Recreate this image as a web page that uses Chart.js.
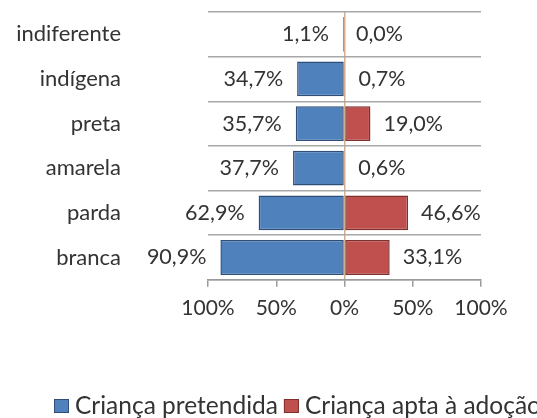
<!DOCTYPE html>
<html>
<head>
<meta charset="utf-8">
<script src="https://cdn.jsdelivr.net/npm/chart.js@4"></script>
<style>
  html, body { margin: 0; padding: 0; background: #fff; }
  #chart { display: block; }
</style>
</head>
<body>
<canvas id="chart" width="537" height="418"></canvas>
<script>
// categories, top to bottom
const categories = ['indiferente', 'indígena', 'preta', 'amarela', 'parda', 'branca'];
// % of each group
const pretendida = [1.1, 34.7, 35.7, 37.7, 62.9, 90.9];
const apta = [0.0, 0.7, 19.0, 0.6, 46.6, 33.1];
const seriesNames = ['Criança pretendida', 'Criança apta à adoção'];
// x axis ticks (left side is shown as positive)
const tickValues = [-100, -50, 0, 50, 100];

const FONT = 'Lato, "Open Sans", sans-serif';
const TEXT = '#333333';

function fmt(v) {
    return Math.abs(v).toFixed(1).replace('.', ',') + '%';
}

// value labels at the outer end of each bar
const barLabels = {
    id: 'barLabels',
    afterDatasetsDraw(chart) {
        const ctx = chart.ctx;
        ctx.save();
        ctx.font = '21.5px ' + FONT;
        ctx.fillStyle = TEXT;
        ctx.textBaseline = 'middle';
        chart.data.datasets.forEach((ds, i) => {
            const meta = chart.getDatasetMeta(i);
            meta.data.forEach((bar, j) => {
                const v = ds.data[j];
                if (v < 0) {
                    ctx.textAlign = 'right';
                    ctx.fillText(fmt(v), bar.x - 14, bar.y);
                } else {
                    ctx.textAlign = 'left';
                    ctx.fillText(fmt(v), bar.x + 13, bar.y);
                }
            });
        });
        ctx.restore();
    }
};

// legend drawn by hand, it runs past the right edge like the original
const bottomLegend = {
    id: 'bottomLegend',
    afterDraw(chart) {
        const ctx = chart.ctx;
        ctx.save();
        ctx.font = '24.5px ' + FONT;
        ctx.textBaseline = 'middle';
        ctx.textAlign = 'left';
        let x = 54;
        const y = 406;
        chart.data.datasets.forEach(ds => {
            ctx.fillStyle = ds.backgroundColor;
            ctx.strokeStyle = ds.borderColor;
            ctx.lineWidth = 1;
            ctx.fillRect(x, y - 7, 15, 14);
            ctx.strokeRect(x + 0.5, y - 6.5, 14, 13);
            x += 21;
            ctx.fillStyle = TEXT;
            ctx.fillText(ds.label, x, y);
            x += ctx.measureText(ds.label).width + 6;
        });
        ctx.restore();
    }
};

new Chart(document.getElementById('chart'), {
    type: 'bar',
    data: {
        labels: categories,
        datasets: [{
            label: seriesNames[0],
            data: pretendida.map(v => -v),
            backgroundColor: '#4f81bd',
            borderColor: '#2f4f78',
            borderWidth: 1.5,
            borderSkipped: false
        }, {
            label: seriesNames[1],
            data: apta,
            backgroundColor: '#c0504d',
            borderColor: '#7f2f2d',
            borderWidth: 1.5,
            borderSkipped: false
        }]
    },
    options: {
        indexAxis: 'y',
        responsive: false,
        animation: false,
        barPercentage: 0.78,
        categoryPercentage: 1,
        layout: {
            padding: { top: 12, right: 56, bottom: 88, left: 0 }
        },
        plugins: {
            legend: { display: false },
            tooltip: { enabled: false }
        },
        scales: {
            x: {
                stacked: true,
                min: -100,
                max: 100,
                afterBuildTicks: scale => {
                    scale.ticks = tickValues.map(v => ({ value: v }));
                },
                border: { display: true, color: '#9a9a9a', width: 1.5 },
                grid: {
                    color: c => c.tick && c.tick.value === 0 ? '#d4ae92' : 'rgba(0,0,0,0)',
                    tickColor: '#9a9a9a',
                    tickLength: 7,
                    lineWidth: 1.5
                },
                ticks: {
                    padding: 9,
                    color: TEXT,
                    font: { family: FONT, size: 21 },
                    maxRotation: 0,
                    callback: v => Math.abs(v) + '%'
                }
            },
            y: {
                stacked: true,
                afterFit: scale => {
                    // fixed label gutter, and no extra top/bottom room from the tick padding
                    scale.width = 208;
                    scale.paddingTop = 0;
                    scale.paddingBottom = 0;
                },
                border: { display: false },
                grid: {
                    offset: true,
                    drawTicks: false,
                    color: '#a8a8a8',
                    lineWidth: 1.5
                },
                ticks: {
                    padding: 87,
                    color: TEXT,
                    font: { family: FONT, size: 22 }
                }
            }
        }
    },
    plugins: [barLabels, bottomLegend]
});
</script>
</body>
</html>
